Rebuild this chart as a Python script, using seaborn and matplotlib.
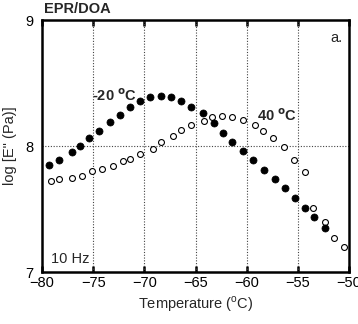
import matplotlib
matplotlib.use("Agg")
import matplotlib.pyplot as plt
import pandas as pd
import seaborn as sns

# Donnees (EPR/DOA, 10 Hz)
temp_m20 = [-79.3, -78.3, -77.1, -76.3, -75.4, -74.4, -73.4, -72.4, -71.4, -70.4,
            -69.4, -68.4, -67.4, -66.4, -65.4, -64.3, -63.2, -62.3, -61.4, -60.4,
            -59.4, -58.3, -57.2, -56.3, -55.3, -54.3, -53.4, -52.3]
loge_m20 = [7.85, 7.89, 7.95, 8.00, 8.06, 8.12, 8.19, 8.25, 8.31, 8.36,
            8.39, 8.40, 8.39, 8.36, 8.31, 8.26, 8.18, 8.10, 8.03, 7.96,
            7.89, 7.81, 7.74, 7.67, 7.59, 7.51, 7.44, 7.35]

temp_p40 = [-79.1, -78.3, -77.1, -76.1, -75.1, -74.1, -73.1, -72.1, -71.4, -70.4,
            -69.2, -68.4, -67.2, -66.4, -65.4, -64.2, -63.4, -62.4, -61.4, -60.4,
            -59.2, -58.4, -57.4, -56.4, -55.4, -54.3, -53.5, -52.3, -51.5, -50.5]
loge_p40 = [7.72, 7.74, 7.75, 7.76, 7.80, 7.82, 7.84, 7.88, 7.90, 7.94,
            7.98, 8.03, 8.08, 8.13, 8.17, 8.20, 8.23, 8.24, 8.23, 8.21,
            8.17, 8.12, 8.06, 7.99, 7.89, 7.79, 7.51, 7.40, 7.27, 7.20]

x_ticks = [-80, -75, -70, -65, -60, -55, -50]
y_ticks = [7, 8, 9]

df_m20 = pd.DataFrame({"T": temp_m20, "logE": loge_m20})
df_p40 = pd.DataFrame({"T": temp_p40, "logE": loge_p40})

sns.set_theme(style="white")
plt.rcParams['font.family'] = ['Liberation Sans', 'DejaVu Sans']

FS = 10.5

fig = plt.figure(figsize=(3.58, 3.24), dpi=100)
ax = fig.add_axes([42 / 358, 1 - 272 / 324, 307 / 358, 252 / 324])

sns.scatterplot(data=df_p40, x="T", y="logE", ax=ax, marker="o", s=18,
                facecolor="white", edgecolor="black", linewidth=0.8, zorder=3)
sns.scatterplot(data=df_m20, x="T", y="logE", ax=ax, marker="o", s=26,
                color="black", edgecolor="black", linewidth=0.5, zorder=4)

ax.set_xlim(-80, -50)
ax.set_ylim(7, 9)
ax.set_xticks(x_ticks)
ax.set_yticks(y_ticks)

# grille pointillee
for xv in x_ticks[1:-1]:
    ax.axvline(xv, color="#444444", linestyle=(0, (1, 1.5)), linewidth=0.8, zorder=1)
ax.axhline(8, color="#444444", linestyle=(0, (1, 1.5)), linewidth=0.8, zorder=1)

for sp in ax.spines.values():
    sp.set_linewidth(1.8)
    sp.set_color("black")

ax.tick_params(axis="x", direction="in", length=4, width=1.8, top=True, bottom=True,
               labelsize=FS, pad=3, colors="black")
ax.tick_params(axis="y", length=0, labelsize=FS, pad=6, colors="black")

ax.set_xlabel("Temperature ($^{\\mathregular{o}}$C)", fontsize=FS, labelpad=3)
ax.set_ylabel("log [E\" (Pa)]", fontsize=FS, labelpad=6)

ax.text(-79.8, 9.03, "EPR/DOA", fontsize=FS, fontweight="bold", va="bottom", ha="left")
ax.text(-50.6, 8.86, "a.", fontsize=FS, ha="right", va="center")
ax.text(-79.1, 7.10, "10 Hz", fontsize=FS, ha="left", va="center")
ax.text(-75.1, 8.40, "-20 $^{\\mathbf{o}}$C", fontsize=FS, fontweight="bold", ha="left", va="center")
ax.text(-59.0, 8.24, "40 $^{\\mathbf{o}}$C", fontsize=FS, fontweight="bold", ha="left", va="center")

fig.savefig("out.png", dpi=100)
